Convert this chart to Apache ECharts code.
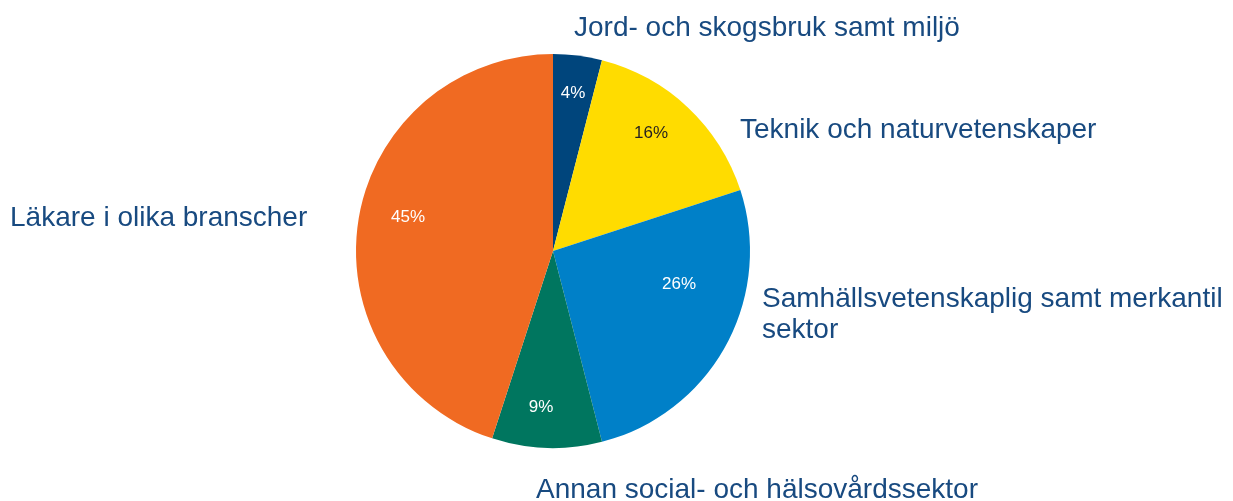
<!DOCTYPE html>
<html>
<head>
<meta charset="utf-8">
<script src="https://cdn.jsdelivr.net/npm/echarts@6/dist/echarts.min.js"></script>
<style>
  html, body { margin: 0; padding: 0; background: #fff; }
  #chart { width: 1233px; height: 501px; }
</style>
</head>
<body>
<div id="chart"></div>
<script>
// data
const categories = [
  'Jord- och skogsbruk samt miljö',
  'Teknik och naturvetenskaper',
  'Samhällsvetenskaplig samt merkantil\nsektor',
  'Annan social- och hälsovårdssektor',
  'Läkare i olika branscher'
]
const shares = [4, 16, 26, 9, 45]

// styling
const sliceColors = ['#00457c', '#ffdc00', '#0080c8', '#00765f', '#f06a22']
const pctColors = ['#fff', '#231f20', '#fff', '#fff', '#fff']
const pctPos = [[573, 93], [651, 133], [679, 284], [541, 407], [408, 217]]
const namePos = [[574, 28], [740, 130], [762, 315], [536, 490], [10, 218]]

const chart = echarts.init(document.getElementById('chart'))

const seriesData = categories.map((name, i) => ({
  name: name,
  value: shares[i],
  itemStyle: { color: sliceColors[i] },
  label: { color: pctColors[i] }
}))

chart.setOption({
  animation: false,
  series: [
    {
      type: 'pie',
      center: [553, 251],
      radius: 197,
      startAngle: 90,
      clockwise: true,
      silent: true,
      data: seriesData,
      label: {
        show: true,
        position: 'inside',
        formatter: p => p.value + '%',
        fontFamily: 'Liberation Sans',
        fontSize: 17
      },
      labelLine: { show: false },
      labelLayout: p => ({
        x: pctPos[p.dataIndex][0],
        y: pctPos[p.dataIndex][1],
        align: 'center',
        verticalAlign: 'middle'
      })
    },
    {
      type: 'pie',
      center: [553, 251],
      radius: 197,
      startAngle: 90,
      clockwise: true,
      silent: true,
      z: 1,
      data: categories.map((name, i) => ({
        name: name,
        value: shares[i],
        itemStyle: { color: 'rgba(0,0,0,0)' }
      })),
      label: {
        show: true,
        position: 'outside',
        formatter: '{b}',
        color: '#184a80',
        fontFamily: 'Liberation Sans',
        fontSize: 28,
        lineHeight: 31,
        overflow: 'none'
      },
      labelLine: { show: false },
      labelLayout: p => ({
        x: namePos[p.dataIndex][0],
        y: namePos[p.dataIndex][1],
        align: 'left',
        verticalAlign: 'middle',
        width: 600
      })
    }
  ]
})
</script>
</body>
</html>
